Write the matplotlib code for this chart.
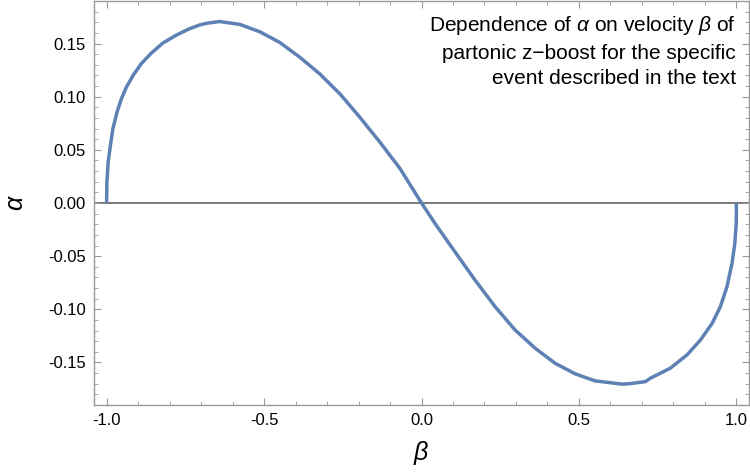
import matplotlib
matplotlib.use("Agg")
import matplotlib.pyplot as plt
from matplotlib.ticker import MultipleLocator, FormatStrFormatter

plt.rcParams["font.family"] = ["Liberation Sans", "DejaVu Sans"]
plt.rcParams["mathtext.fontset"] = "custom"
plt.rcParams["mathtext.rm"] = "Liberation Sans"
plt.rcParams["mathtext.it"] = "Liberation Sans:italic"

# values
beta = [-1.0, -0.999, -0.995, -0.988, -0.980, -0.967, -0.953, -0.937, -0.916,
        -0.890, -0.858, -0.821, -0.778, -0.736, -0.704, -0.683, -0.646, -0.641,
        -0.577, -0.513, -0.450, -0.386, -0.323, -0.259, -0.196, -0.132, -0.068,
        0.0, 0.043, 0.1065, 0.170, 0.234, 0.297, 0.361, 0.424, 0.488, 0.551,
        0.637, 0.663, 0.711, 0.727, 0.790, 0.843, 0.886, 0.923, 0.949, 0.970,
        0.986, 0.995, 0.9995, 1.0]
alpha = [0.0, 0.0197, 0.0385, 0.054, 0.0698, 0.0854, 0.098, 0.109, 0.120,
         0.131, 0.141, 0.1505, 0.158, 0.164, 0.1675, 0.169, 0.1705, 0.1707,
         0.168, 0.161, 0.151, 0.137, 0.1214, 0.1026, 0.0807, 0.0572, 0.0323,
         0.0, -0.0193, -0.046, -0.0725, -0.0976, -0.1194, -0.1366, -0.1507, -0.1607, -0.1673,
         -0.1704, -0.1699, -0.168, -0.1648, -0.1554, -0.1429, -0.1288, -0.1132, -0.0976, -0.0788,
         -0.0569, -0.038, -0.0193, 0.0]

note = "Dependence of $\\alpha$ on velocity $\\beta$ of\npartonic z\u2212boost for the specific\nevent described in the text"

fig = plt.figure(figsize=(7.5, 4.75), dpi=100)
ax = fig.add_axes([94 / 750, 70 / 475, 655 / 750, 404 / 475])

ax.axhline(0, color="#555555", lw=1.1, zorder=1)
ax.plot(beta, alpha, color="#5E81B5", lw=2.5, solid_joinstyle="round",
        solid_capstyle="butt", zorder=2)

ax.set_xlim(-1.04, 1.04)
ax.set_ylim(-0.19, 0.19)
ax.xaxis.set_major_locator(MultipleLocator(0.5))
ax.xaxis.set_minor_locator(MultipleLocator(0.1))
ax.yaxis.set_major_locator(MultipleLocator(0.05))
ax.yaxis.set_minor_locator(MultipleLocator(0.01))
ax.xaxis.set_major_formatter(FormatStrFormatter("%.1f"))
ax.yaxis.set_major_formatter(FormatStrFormatter("%.2f"))

ax.tick_params(which="both", direction="in", top=True, right=True, color="#999999",
               labelsize=12, labelcolor="black")
ax.tick_params(which="major", length=5, width=0.8, pad=6)
ax.tick_params(which="minor", length=3, width=0.6)
for side in ax.spines.values():
    side.set_color("#999999")
    side.set_linewidth(1.0)

ax.set_xlabel("$\\beta$", fontsize=18, labelpad=8)
ax.set_ylabel("$\\alpha$", fontsize=18, labelpad=14)

ax.text(0.980, 0.968, note, transform=ax.transAxes, ha="right", va="top",
        fontsize=15, linespacing=1.45)

fig.savefig("out.png", dpi=100)
plt.close(fig)
